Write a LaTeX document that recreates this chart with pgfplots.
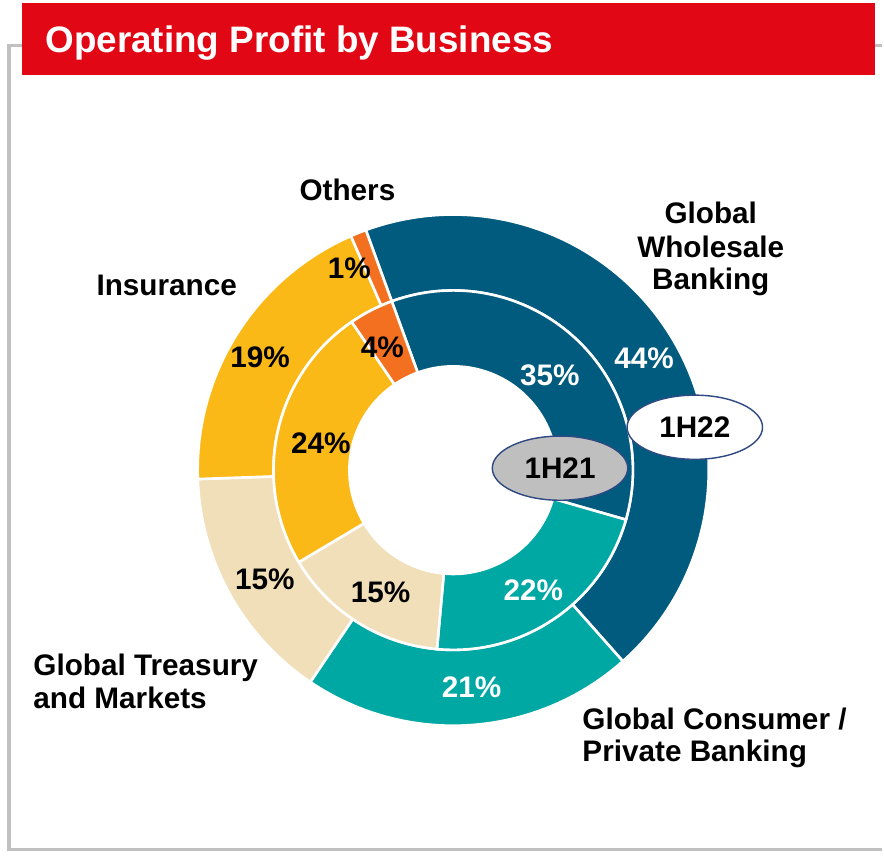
\documentclass[border=0pt]{standalone}
\usepackage{pgfplots}
\pgfplotsset{compat=1.18}
\usepackage{pgfplotstable}
\usepackage{fontspec}
\setmainfont{Liberation Sans}

\definecolor{c0}{HTML}{005B7F}
\definecolor{c1}{HTML}{00A8A4}
\definecolor{c2}{HTML}{F0DFB8}
\definecolor{c3}{HTML}{FBB918}
\definecolor{c4}{HTML}{F37021}
\definecolor{bannerred}{HTML}{E20714}
\definecolor{framegray}{HTML}{C0C0C0}
\definecolor{ovalgray}{HTML}{BFBFBF}
\definecolor{ovaledge}{HTML}{2F4A82}

% shares in %, label nudges in px
\pgfplotstableread{
name  inner outer innerdx innerdy outerdx outerdy
GWB   35    44    0       -9      4       0
GCPB  22    21    0       -3      4       0
GTM   15    15    3       -2      2       -4
Ins   24    19    6       -4      -9      -3
Oth   4     1     -6      -3      -23     0
}\opdata

\newcommand{\lblfont}{\fontsize{12.5}{15}\selectfont\bfseries}

\def\cx{454}
\def\cy{387}
\def\pxu{0.42}
\def\startang{110}

% #1 value column, #2 inner radius, #3 outer radius, #4 dx column, #5 dy column
\newcommand{\ring}[5]{%
  \edef\acc{\startang}%
  \pgfplotsforeachungrouped \i in {0,...,4}{%
    \pgfplotstablegetelem{\i}{#1}\of\opdata
    \let\val\pgfplotsretval
    \pgfplotstablegetelem{\i}{#4}\of\opdata
    \let\ldx\pgfplotsretval
    \pgfplotstablegetelem{\i}{#5}\of\opdata
    \let\ldy\pgfplotsretval
    \pgfmathsetmacro\angA{\acc}%
    \pgfmathsetmacro\angB{\acc-3.6*\val}%
    \pgfmathsetmacro\xa{\cx+#3*cos(\angA)}%
    \pgfmathsetmacro\ya{\cy+#3*sin(\angA)}%
    \pgfmathsetmacro\xb{\cx+#2*cos(\angB)}%
    \pgfmathsetmacro\yb{\cy+#2*sin(\angB)}%
    \pgfmathsetmacro\rout{#3*\pxu}%
    \pgfmathsetmacro\rin{#2*\pxu}%
    \pgfmathsetmacro\angM{(\angA+\angB)/2}%
    \pgfmathsetmacro\rmid{(#2+#3)/2}%
    \pgfmathsetmacro\xm{\cx+\rmid*cos(\angM)+\ldx}%
    \pgfmathsetmacro\ym{\cy+\rmid*sin(\angM)+\ldy}%
    \ifnum\i<2 \def\tc{white}\else\def\tc{black}\fi
    \edef\cmd{\noexpand\filldraw[fill=c\i, draw=white, line width=1.1pt]
      (axis cs:\xa,\ya) arc[start angle=\angA, end angle=\angB, radius=\rout pt]
      -- (axis cs:\xb,\yb) arc[start angle=\angB, end angle=\angA, radius=\rin pt] -- cycle;
      \noexpand\node[text=\tc, font=\noexpand\lblfont] at (axis cs:\xm,\ym) {\val\noexpand\%};}%
    \cmd
    \edef\acc{\angB}%
  }%
}

\begin{document}
\begin{tikzpicture}
\begin{axis}[
  hide axis,
  x=0.42pt, y=0.42pt,
  xmin=0, xmax=884, ymin=0, ymax=858,
  clip=false,
]
\path (axis cs:0,0) rectangle (axis cs:884,858);

% frame and banner
\draw[framegray, line width=1.3pt] (axis cs:22,812) -- (axis cs:9,812) -- (axis cs:9,7) -- (axis cs:884,7);
\draw[framegray, line width=1.3pt] (axis cs:876,812) -- (axis cs:884,812);
\fill[bannerred] (axis cs:22,783) rectangle (axis cs:877,855);
\node[anchor=base west, inner sep=0, text=white, font=\fontsize{15.5}{18}\selectfont\bfseries]
  at (axis cs:45,805) {Operating Profit by Business};

% rings
\ring{outer}{180}{256}{outerdx}{outerdy}
\ring{inner}{104}{180}{innerdx}{innerdy}

% ring tags
\filldraw[fill=ovalgray, draw=ovaledge, line width=0.6pt] (axis cs:561,389) ellipse [x radius=28.5pt, y radius=13.5pt];
\node[font=\lblfont] at (axis cs:561,389) {1H21};
\filldraw[fill=white, draw=ovaledge, line width=0.6pt] (axis cs:696,430) ellipse [x radius=28.5pt, y radius=13.5pt];
\node[font=\lblfont] at (axis cs:696,430) {1H22};

% category names
\node[anchor=base, font=\lblfont] at (axis cs:348,657) {Others};
\node[anchor=base, font=\lblfont] at (axis cs:712,634) {Global};
\node[anchor=base, font=\lblfont] at (axis cs:712,600) {Wholesale};
\node[anchor=base, font=\lblfont] at (axis cs:712,568) {Banking};
\node[anchor=base, font=\lblfont] at (axis cs:167,562) {Insurance};
\node[anchor=base west, inner sep=0, font=\lblfont] at (axis cs:33,181) {Global Treasury};
\node[anchor=base west, inner sep=0, font=\lblfont] at (axis cs:33,148) {and Markets};
\node[anchor=base west, inner sep=0, font=\lblfont] at (axis cs:583,127) {Global Consumer /};
\node[anchor=base west, inner sep=0, font=\lblfont] at (axis cs:583,95) {Private Banking};
\end{axis}
\end{tikzpicture}
\end{document}
